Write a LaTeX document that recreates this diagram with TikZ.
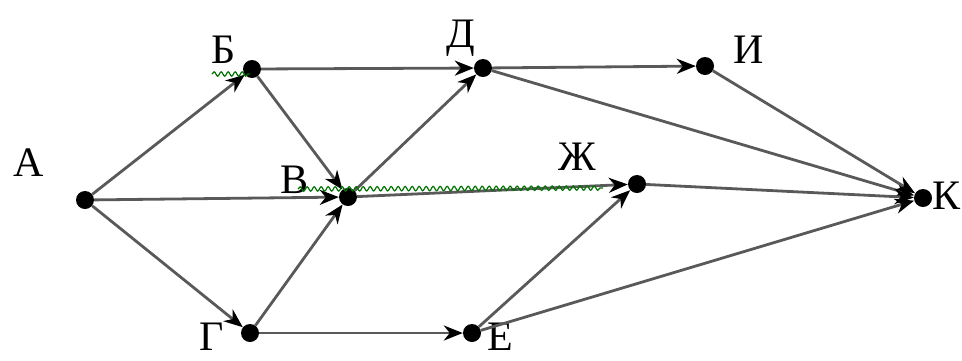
\documentclass[tikz,border=0pt]{standalone}
\usepackage{fontspec}
\setmainfont{Liberation Serif}
\usetikzlibrary{arrows.meta,decorations.pathmorphing}
\begin{document}
\begin{tikzpicture}[x=1pt,y=-1pt,
 dot/.style={circle,fill=black,inner sep=0pt,minimum size=18pt},
 lbl/.style={font=\fontsize{42}{42}\selectfont,inner sep=0pt},
 arr/.style={draw=black!65,line width=2.8pt,-{Stealth[length=19pt,width=15pt,inset=6pt,color=black]}},
 wavy/.style={draw=green!45!black,line width=1.2pt,decorate,decoration={snake,amplitude=2.2pt,segment length=7pt}}]
\useasboundingbox (0,0) rectangle (962,360);
% dots
\node[dot] (A) at (85,200) {};
\node[dot] (B) at (252,69) {};
\node[dot] (V) at (348,197) {};
\node[dot] (G) at (250,333) {};
\node[dot] (D) at (483,68) {};
\node[dot] (E) at (472,333) {};
\node[dot] (Zh) at (637,184) {};
\node[dot] (I) at (705,66) {};
\node[dot] (K) at (923,198) {};
% labels
\node[lbl] (lA) at (29,163) {А};
\node[lbl] (lB) at (224,50) {Б};
\node[lbl] (lV) at (295,180) {В};
\node[lbl] (lG) at (212,337) {Г};
\node[lbl] (lD) at (461,38) {Д};
\node[lbl] (lE) at (500,337) {Е};
\node[lbl] (lZh) at (577,157) {Ж};
\node[lbl] (lI) at (749,50) {И};
\node[lbl] (lK) at (946,196) {К};
% edges
\draw[arr] (A) -- (B);
\draw[arr] (A) -- (V);
\draw[arr] (A) -- (G);
\draw[arr] (B) -- (D);
\draw[arr] (B) -- (V);
\draw[arr] (G) -- (V);
\draw[arr] (G) -- (E);
\draw[arr] (V) -- (D);
\draw[arr] (V) -- (Zh);
\draw[arr] (E) -- (Zh);
\draw[arr] (D) -- (I);
\draw[arr] (D) -- (K);
\draw[arr] (I) -- (K);
\draw[arr] (Zh) -- (K);
\draw[arr] (E) -- (K);
% spell-check squiggles
\coordinate (w1) at (212,74);
\coordinate (w2) at (250,74);
\coordinate (w3) at (298,189);
\coordinate (w4) at (603,188);
\draw[wavy] (w1) -- (w2);
\draw[wavy] (w3) -- (w4);
\end{tikzpicture}
\end{document}
